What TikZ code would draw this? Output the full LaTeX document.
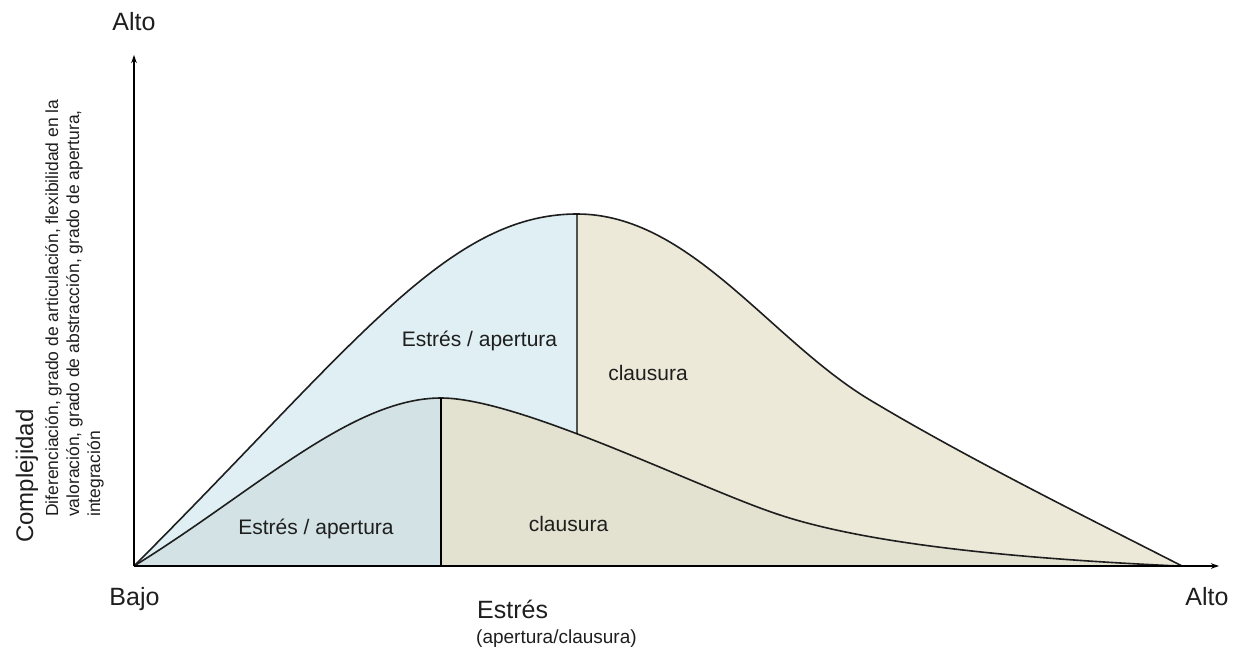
\documentclass[tikz,border=0pt]{standalone}
\usepackage{fontspec}
\setmainfont{Liberation Sans}
\usetikzlibrary{arrows.meta,intersections}

% region colours
\definecolor{openhi}{RGB}{223,239,243}
\definecolor{closehi}{RGB}{236,233,216}
\definecolor{openlo}{RGB}{211,226,228}
\definecolor{closelo}{RGB}{227,225,208}
\definecolor{ink}{RGB}{30,30,30}

\begin{document}
\begin{tikzpicture}[x=1pt,y=-1pt,
  curve/.style={draw=ink, line width=1.6pt, line join=round},
  divider/.style={draw=black, line width=1.2pt},
  axisline/.style={draw=black, line width=1.3pt, -{Stealth[length=8pt,width=5.5pt]}},
  bigtxt/.style={font=\fontsize{25}{30}\selectfont, text=ink, inner sep=0pt},
  ytitle/.style={font=\fontsize{24}{28}\selectfont, text=ink, inner sep=0pt},
  ysub/.style={font=\fontsize{17.5}{21}\selectfont, text=ink, inner sep=0pt},
  subtxt/.style={font=\fontsize{19}{23}\selectfont, text=ink, inner sep=0pt},
  region/.style={font=\fontsize{21}{25}\selectfont, text=ink, inner sep=0pt}]

\useasboundingbox (0,0) rectangle (1241,647);

% key points of the two curves
\coordinate (O) at (134,566);
\coordinate (Hpk) at (577,214);
\coordinate (Hmid) at (870,400);
\coordinate (Hend) at (1182,566);
\coordinate (Lpk) at (441,398);
\coordinate (Lmid) at (780,515);
\coordinate (Lend) at (1178,566);
\coordinate (Hfoot) at (577,566);
\coordinate (Lfoot) at (441,566);
\coordinate (ytop) at (134,55);
\coordinate (xend) at (1219,566);

% filled regions under the high curve
\fill[openhi] (O) .. controls (354,346) and (447,214) .. (Hpk) -- (Hfoot) -- cycle;
\fill[closehi] (Hpk) .. controls (690,214) and (770,340) .. (Hmid)
  .. controls (970,460) and (1100,524) .. (Hend) -- (Hfoot) -- cycle;

% filled regions under the low curve
\fill[openlo] (O) .. controls (254,492) and (351,398) .. (Lpk) -- (Lfoot) -- cycle;
\fill[closelo] (Lpk) .. controls (520,398) and (700,489) .. (Lmid)
  .. controls (880,548) and (1050,560) .. (Lend) -- (Lfoot) -- cycle;

% curve outlines
\draw[curve, name path=high] (O) .. controls (354,346) and (447,214) .. (Hpk)
  .. controls (690,214) and (770,340) .. (Hmid)
  .. controls (970,460) and (1100,524) .. (Hend);
\draw[curve, name path=low] (O) .. controls (254,492) and (351,398) .. (Lpk)
  .. controls (520,398) and (700,489) .. (Lmid)
  .. controls (880,548) and (1050,560) .. (Lend);

% dividers between opening and closing phases
\path[name path=cut] (Hpk) -- (Hfoot);
\draw[divider, name intersections={of=low and cut, by=Hcut}] (Hpk) -- (Hcut);
\draw[divider] (Lpk) -- (Lfoot);

% axes
\draw[axisline] (O) -- (ytop);
\draw[axisline] (O) -- (xend);

% axis labels
\node[bigtxt, anchor=base] (altoY) at (134,31) {Alto};
\node[bigtxt, anchor=base] (bajo) at (134.5,605) {Bajo};
\node[bigtxt, anchor=base] (altoX) at (1207,605) {Alto};
\node[bigtxt, anchor=base west] (estres) at (477,618) {Estrés};
\node[subtxt, anchor=base west] (estresSub) at (476,643) {(apertura/clausura)};

\node[ytitle, rotate=90, anchor=base west] (compl) at (33,543) {Complejidad};
\node[ysub, rotate=90, anchor=base west] (complA) at (58,517) {Diferenciación, grado de articulación, flexibilidad en la};
\node[ysub, rotate=90, anchor=base west] (complB) at (79,517) {valoración, grado de abstracción, grado de apertura,};
\node[ysub, rotate=90, anchor=base west] (complC) at (100,517) {integración};

% region labels
\node[region, anchor=base] (openHiLbl) at (479.5,346) {Estrés / apertura};
\node[region, anchor=base] (closeHiLbl) at (648,380) {clausura};
\node[region, anchor=base] (openLoLbl) at (316,534) {Estrés / apertura};
\node[region, anchor=base] (closeLoLbl) at (568.5,531) {clausura};
\end{tikzpicture}
\end{document}
